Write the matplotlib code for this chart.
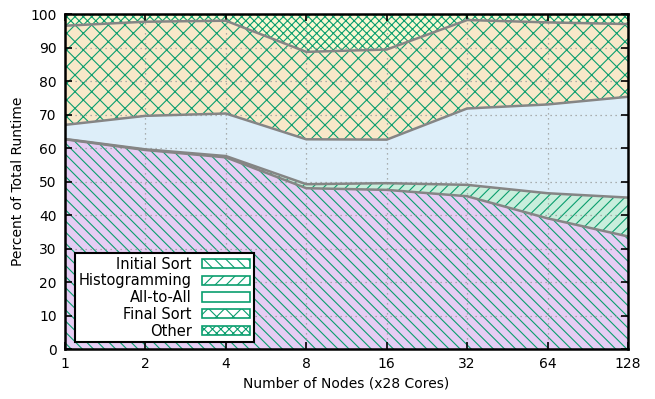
import matplotlib
matplotlib.use("Agg")
from matplotlib import pyplot as plt
from matplotlib.patches import Patch
import numpy as np

nodos = [1, 2, 4, 8, 16, 32, 64, 128]
etiquetas_x = ["1", "2", "4", "8", "16", "32", "64", "128"]

# porcentaje de cada fase (apiladas)
initial_sort = [62.6, 59.4, 57.2, 48.0, 47.5, 45.6, 39.0, 33.6]
histogramming = [0.1, 0.2, 0.4, 1.2, 2.0, 3.4, 7.5, 11.6]
all_to_all = [4.2, 10.0, 12.7, 13.4, 13.0, 22.8, 26.5, 30.1]
final_sort = [29.6, 28.1, 27.7, 26.1, 26.9, 26.4, 24.5, 21.7]
other = [3.5, 2.3, 2.0, 11.3, 10.6, 1.8, 2.5, 3.0]

nombres = ["Initial Sort", "Histogramming", "All-to-All", "Final Sort", "Other"]
colores = ["#e6cdf4", "#c8eedc", "#ddeef9", "#f8e8c9", "#fbf8d2"]
tramas = ["\\\\\\", "///", "", "xx", "xxxx"]
verde = "#0a9e6e"

plt.rcParams["hatch.color"] = verde
plt.rcParams["hatch.linewidth"] = 0.8
plt.rcParams["font.family"] = "DejaVu Sans"

fig = plt.figure(figsize=(6.55, 3.99), dpi=100)
ax = fig.add_axes([0.0992, 0.1253, 0.8596, 0.8396])

fases = [initial_sort, histogramming, all_to_all, final_sort, other]
abajo = np.zeros(len(nodos))
for datos, color, trama in zip(fases, colores, tramas):
    arriba = abajo + np.array(datos)
    ax.fill_between(nodos, abajo, arriba, facecolor=color, hatch=trama,
                    edgecolor=verde, linewidth=0, zorder=1)
    abajo = arriba

# bordes grises entre fases
abajo = np.zeros(len(nodos))
for datos in fases[:-1]:
    abajo = abajo + np.array(datos)
    ax.plot(nodos, abajo, color="#858585", linewidth=1.8, zorder=3)

ax.set_xscale("log", base=2)
ax.set_xlim(1, 128)
ax.set_ylim(0, 100)
ax.set_xticks(nodos)
ax.set_xticklabels(etiquetas_x)
ax.set_yticks(range(0, 101, 10))
ax.minorticks_off()
ax.tick_params(direction="in", length=5, width=1.2, top=True, right=True,
               labelsize=10, pad=6)
ax.grid(True, linestyle=(0, (1, 3)), color="#999999", linewidth=0.9, zorder=2)
ax.set_axisbelow(False)
for lado in ax.spines.values():
    lado.set_linewidth(1.8)
    lado.set_zorder(5)

ax.set_xlabel("Number of Nodes (x28 Cores)", fontsize=10, labelpad=4)
ax.set_ylabel("Percent of Total Runtime", fontsize=10, labelpad=4)

muestras = [Patch(facecolor="white", edgecolor=verde, hatch=t, linewidth=1.2)
            for t in tramas]
leyenda = ax.legend(muestras, nombres, loc="lower left",
                    bbox_to_anchor=(0.018, 0.02), borderaxespad=0,
                    markerfirst=False, fancybox=False, framealpha=1,
                    edgecolor="black", fontsize=10.5, handlelength=3.3,
                    handleheight=0.6, labelspacing=0.12, handletextpad=0.7,
                    borderpad=0.25)
leyenda.get_frame().set_linewidth(1.5)
for texto in leyenda.get_texts():
    texto.set_ha("right")
leyenda.set_zorder(6)

fig.savefig("out.png", dpi=100)
